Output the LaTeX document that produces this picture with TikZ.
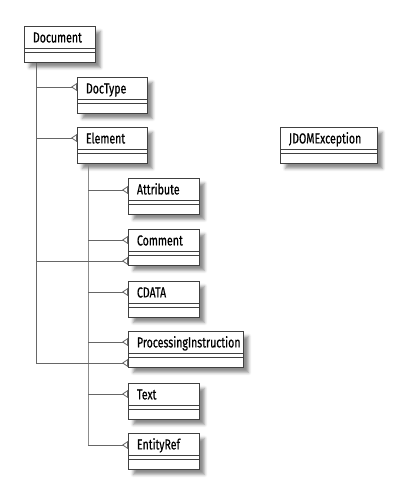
\documentclass[tikz,border=0pt]{standalone}
\usepackage{fontspec}
\setmainfont{Fira Sans}[FakeStretch=0.73, FakeBold=0.5]
\usetikzlibrary{arrows.meta,shadows.blur}

\tikzset{
  classbox/.style={draw=black!75, line width=0.9pt, fill=white, anchor=north west,
    inner xsep=8.5pt, inner ysep=0pt, text width=#1, text height=16pt, text depth=20pt,
    align=left, font=\fontsize{14.5}{16}\selectfont,
    blur shadow={shadow xshift=5pt, shadow yshift=-5pt, shadow blur radius=3pt, shadow opacity=45}},
  classbox/.default=54pt,
  gen/.style={draw=black!60, line width=0.8pt, -{Triangle[open,reversed,length=6pt,width=8pt]}},
  bus/.style={draw=black!60, line width=0.8pt}
}

\begin{document}
\begin{tikzpicture}[x=1pt, y=-1pt]
  \useasboundingbox (0,0) rectangle (405,495);
  \node[classbox] (document) at (24,26) {Document};
  \node[classbox=53pt] (doctype) at (77,77) {DocType};
  \node[classbox=53pt] (element) at (77,127) {Element};
  \node[classbox] (attribute) at (128,178) {Attribute};
  \node[classbox] (comment) at (128,229) {Comment};
  \node[classbox] (cdata) at (128,281) {CDATA};
  \node[classbox=98pt] (procinstr) at (128,331) {ProcessingInstruction};
  \node[classbox] (text) at (128,383) {Text};
  \node[classbox] (entityref) at (128,433) {EntityRef};
  \node[classbox=80pt] (jdomexc) at (280,127) {JDOMException};
  % compartments
  \foreach \n in {document,doctype,element,attribute,comment,cdata,procinstr,text,entityref,jdomexc}
    \draw[black!75, line width=0.7pt] ([yshift=-22pt]\n.north west) -- ([yshift=-22pt]\n.north east)
      ([yshift=-26pt]\n.north west) -- ([yshift=-26pt]\n.north east);
  % buses
  \coordinate (docbus) at ([xshift=12pt]document.south west);
  \coordinate (docend) at ([yshift=-32pt]procinstr.north west);
  \coordinate (elembus) at ([xshift=11pt]element.south west);
  \coordinate (elemend) at ([yshift=-12pt]entityref.north west);
  \draw[bus] (docbus) -- (docbus |- docend);
  \draw[bus, black!45] (elembus) -- (elembus |- elemend);
  \foreach \n/\d in {doctype/10, element/11, comment/32, procinstr/32} {
    \coordinate (tip) at ([yshift=-\d pt]\n.north west);
    \draw[gen] (docbus |- tip) -- (tip);
  }
  \foreach \n/\d in {attribute/12, comment/11, cdata/11, procinstr/11, text/11, entityref/12} {
    \coordinate (tip) at ([yshift=-\d pt]\n.north west);
    \draw[gen] (elembus |- tip) -- (tip);
  }
\end{tikzpicture}
\end{document}
